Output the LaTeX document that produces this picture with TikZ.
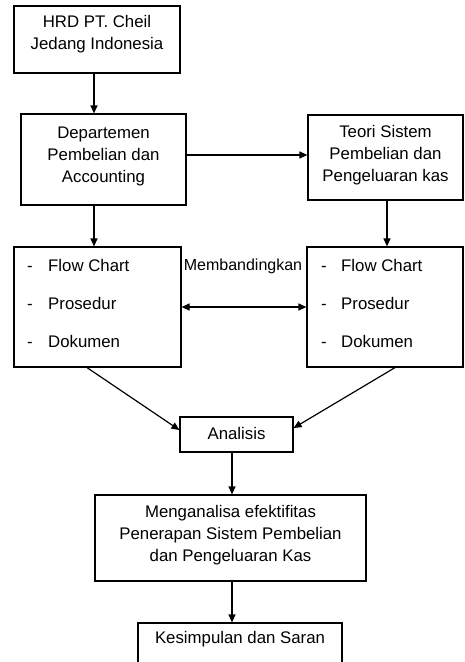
\documentclass[tikz,border=0pt]{standalone}
\usepackage{fontspec}
\setmainfont{Liberation Sans}
\usetikzlibrary{arrows.meta}
\begin{document}
\begin{tikzpicture}[x=1pt,y=-1pt,
  box/.style={draw, line width=1.2pt, inner sep=0pt},
  arr/.style={-{Triangle[length=8pt,width=7pt]}, line width=1.2pt},
  darr/.style={{Triangle[length=8pt,width=7pt]}-{Triangle[length=8pt,width=7pt]}, line width=1.2pt},
  txt/.style={align=center, font=\fontsize{16.8}{22}\selectfont, inner sep=0pt},
  item/.style={anchor=base west, font=\fontsize{16.8}{22}\selectfont, inner sep=0pt}]
\useasboundingbox (0,0) rectangle (464,662);
\clip (0,0) rectangle (464,662);
% boxes
\node[box, minimum width=166pt, minimum height=67pt] (b1) at (97,39.5) {};
\node[txt] (t1) at (97,34) {HRD PT. Cheil\\Jedang Indonesia};
\node[box, minimum width=165pt, minimum height=91pt] (b2) at (103.5,159.5) {};
\node[txt] (t2) at (103.5,156) {Departemen\\Pembelian dan\\Accounting};
\node[box, minimum width=155pt, minimum height=85pt] (b3) at (385.5,157.5) {};
\node[txt] (t3) at (385.5,155) {Teori Sistem\\Pembelian dan\\Pengeluaran kas};
\node[box, minimum width=167pt, minimum height=120pt] (b4) at (97.5,307) {};
\node[box, minimum width=156pt, minimum height=120pt] (b5) at (385,307) {};
\node[item] (d1) at (27,271.5) {-};
\node[item] (i1) at (48,271.5) {Flow Chart};
\node[item] (d2) at (27,309.5) {-};
\node[item] (i2) at (48,309.5) {Prosedur};
\node[item] (d3) at (27,347.5) {-};
\node[item] (i3) at (48,347.5) {Dokumen};
\node[item] (e1) at (321,271.5) {-};
\node[item] (j1) at (341,271.5) {Flow Chart};
\node[item] (e2) at (321,309.5) {-};
\node[item] (j2) at (341,309.5) {Prosedur};
\node[item] (e3) at (321,347.5) {-};
\node[item] (j3) at (341,347.5) {Dokumen};
\node[txt, font=\fontsize{16}{22}\selectfont] (mb) at (243,266) {Membandingkan};
\node[box, minimum width=113pt, minimum height=35pt] (an) at (236.5,434.5) {};
\node[txt] (ta) at (236.5,433) {Analisis};
\node[box, minimum width=271pt, minimum height=86pt] (b6) at (230.5,538) {};
\node[txt] (t6) at (230.5,535) {Menganalisa efektifitas\\Penerapan Sistem Pembelian\\dan Pengeluaran Kas};
\node[box, minimum width=204pt, minimum height=60pt] (b7) at (240,653) {};
\node[txt] (t7) at (240,639) {Kesimpulan dan Saran};
% helper coordinates
\coordinate (c1) at (94,0);
\coordinate (c2) at (0,155);
\coordinate (c3) at (387,0);
\coordinate (c4) at (0,307);
\coordinate (c5) at (87,0);
\coordinate (c6) at (395,0);
\coordinate (c7) at (0,430);
\coordinate (c8) at (0,428);
\coordinate (c9) at (232,0);
% connectors
\draw[arr] (b1.south -| c1) -- (b2.north -| c1);
\draw[arr] (b2.east |- c2) -- (b3.west |- c2);
\draw[arr] (b2.south -| c1) -- (b4.north -| c1);
\draw[arr] (b3.south -| c3) -- (b5.north -| c3);
\draw[darr] (b4.east |- c4) -- (b5.west |- c4);
\draw[arr] (b4.south -| c5) -- (an.west |- c7);
\draw[arr] (b5.south -| c6) -- (an.east |- c8);
\draw[arr] (an.south -| c9) -- (b6.north -| c9);
\draw[arr] (b6.south -| c9) -- (b7.north -| c9);
\end{tikzpicture}
\end{document}
